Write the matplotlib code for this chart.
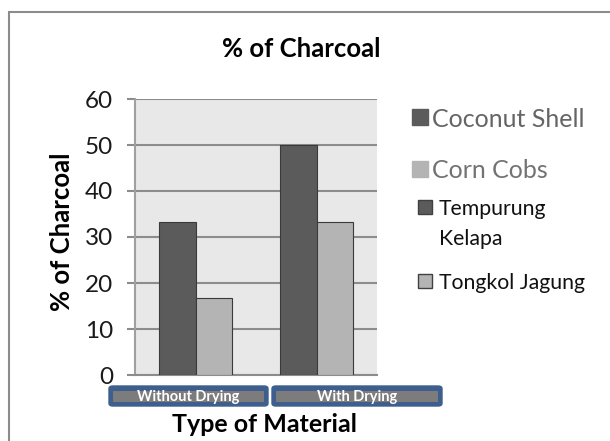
import matplotlib.pyplot as plt
import numpy as np
from matplotlib.patches import Rectangle, FancyBboxPatch

# data
categories = ['Without Drying', 'With Drying']
coconut = [33.33, 50.0]
corn = [16.67, 33.33]
legend_labels = ['Coconut Shell', 'Corn Cobs', 'Tempurung\nKelapa', 'Tongkol Jagung']
yticks = [0, 10, 20, 30, 40, 50, 60]

dark = '#5b5b5b'
light = '#b4b4b4'

plt.rcParams['font.family'] = ['Lato', 'DejaVu Sans']

fig = plt.figure(figsize=(6.1, 4.41), dpi=100)
W, H = 610.0, 441.0


def fx(px):
    return px / W


def fy(py):
    return 1 - py / H


# outer frame
fig.patches.append(Rectangle((fx(9), -0.1), 1.2, fy(12) + 0.1, transform=fig.transFigure,
                             fill=False, edgecolor='#8c8c8c', linewidth=1.5))

ax = fig.add_axes([fx(135), fy(375), 242 / W, 276 / H])
ax.set_facecolor('#e8e8e8')

x = np.arange(len(categories))
w = 0.3
ax.bar(x - w / 2, coconut, w, color=dark, edgecolor='#3a3a3a', linewidth=0.8, zorder=3)
ax.bar(x + w / 2, corn, w, color=light, edgecolor='#3a3a3a', linewidth=0.8, zorder=3)

ax.set_xlim(-0.5, 1.5)
ax.set_ylim(0, 60)
ax.set_yticks(yticks)
ax.set_yticklabels([str(t) for t in yticks], fontsize=17.5, color='#1a1a1a')
ax.set_xticks([])
ax.yaxis.grid(True, color='#8c8c8c', linewidth=1.5, zorder=0)
ax.tick_params(axis='y', length=5.8, width=1.5, color='#8c8c8c', pad=10)
for s in ['top', 'right']:
    ax.spines[s].set_visible(False)
ax.spines['left'].set_color('#a0a0a0')
ax.spines['left'].set_linewidth(1.5)
ax.spines['bottom'].set_color('#8c8c8c')
ax.spines['bottom'].set_linewidth(1.5)

fig.text(fx(62), fy(232), '% of Charcoal', fontsize=18.5, fontweight='bold',
         rotation=90, ha='center', va='center')
fig.text(fx(301), fy(57), '% of Charcoal', fontsize=18.5, fontweight='bold',
         ha='center', va='baseline')
fig.text(fx(264), fy(432), 'Type of Material', fontsize=18, fontweight='bold',
         ha='center', va='baseline')

# category boxes
boxes = [(109, 268), (272, 442)]
for (x0, x1), lab in zip(boxes, categories):
    fig.patches.append(FancyBboxPatch((fx(x0), fy(406)), (x1 - x0) / W, 20 / H,
                                      boxstyle='round,pad=0,rounding_size=0.006',
                                      transform=fig.transFigure, facecolor='#3e5f8e',
                                      edgecolor='#3e5f8e', linewidth=1))
    fig.patches.append(Rectangle((fx(x0 + 4), fy(402)), (x1 - x0 - 8) / W, 11 / H,
                                 transform=fig.transFigure, facecolor='#7c7c7c',
                                 edgecolor='none'))
    fig.text(fx((x0 + x1) / 2), fy(397), lab, fontsize=10.5, fontweight='bold',
             color='white', ha='center', va='center')

# legend
leg_y = [117, 169, 207, 281]
leg_col = [dark, light, dark, light]
txt_col = ['#4a4a4a', '#5a5a5a', '#111111', '#111111']
sizes = [18, 18, 15.3, 15.3]
sq_x = [412, 412, 418, 418]
tx_x = [432, 432, 439, 439]
for yy, c, tc, fs, sx, tx, lab in zip(leg_y, leg_col, txt_col, sizes, sq_x, tx_x, legend_labels):
    big = fs > 16
    sq = 16 if big else 14
    fig.patches.append(Rectangle((fx(sx), fy(yy + sq / 2)), sq / W, sq / H,
                                 transform=fig.transFigure, facecolor=c,
                                 edgecolor=c if big else '#404040', linewidth=1))
    for i, line in enumerate(lab.split('\n')):
        fig.text(fx(tx), fy(yy + 30 * i), line, fontsize=fs, color=tc, ha='left',
                 va='center_baseline', alpha=0.85 if big else 1)

fig.savefig('out.png', dpi=100)
